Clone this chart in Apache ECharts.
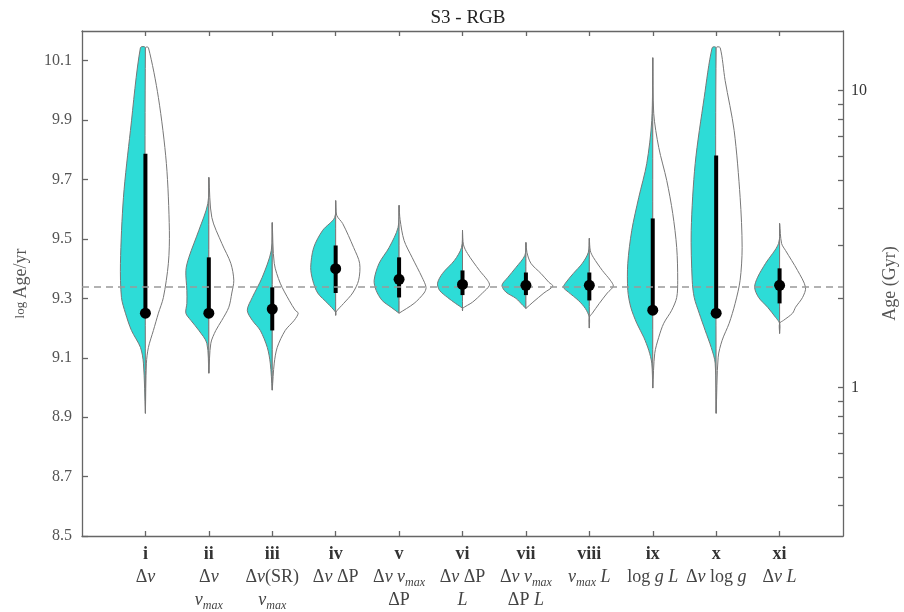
<!DOCTYPE html>
<html>
<head>
<meta charset="utf-8">
<script src="https://cdn.jsdelivr.net/npm/echarts@6/dist/echarts.min.js"></script>
<style>
  html, body { margin: 0; background: #fff; overflow: hidden; }
  #chart { width: 904px; height: 612px; }
</style>
</head>
<body>
<div id="chart"></div>
<script>
// fit names, one per violin
const categories = ["i", "ii", "iii", "iv", "v", "vi", "vii", "viii", "ix", "x", "xi"];
const subLabels = [
  "{m|Δ}{it|ν}",
  "{m|Δ}{it|ν}\n{it|ν}{sub|max}",
  "{m|Δ}{it|ν}{m|(SR)}\n{it|ν}{sub|max}",
  "{m|Δ}{it|ν} {m|ΔP}",
  "{m|Δ}{it|ν} {it|ν}{sub|max}\n{m|ΔP}",
  "{m|Δ}{it|ν} {m|ΔP}\n{it|L}",
  "{m|Δ}{it|ν} {it|ν}{sub|max}\n{m|ΔP} {it|L}",
  "{it|ν}{sub|max} {it|L}",
  "{m|log} {it|g} {it|L}",
  "{m|Δ}{it|ν} {m|log} {it|g}",
  "{m|Δ}{it|ν} {it|L}"
];

// log Age/yr: median and interval of each fit
const medians = [9.25, 9.25, 9.264, 9.40, 9.364, 9.347, 9.344, 9.344, 9.26, 9.25, 9.344];
const intervalLow = [9.25, 9.25, 9.192, 9.318, 9.303, 9.311, 9.311, 9.293, 9.26, 9.25, 9.283];
const intervalHigh = [9.787, 9.438, 9.337, 9.478, 9.438, 9.394, 9.387, 9.387, 9.569, 9.781, 9.401];

// reference age (dashed line)
const refAge = 9.337;

// density profiles [log age, density], left (filled) and right (open) halves
const leftDensity = [
  [[10.144, 5], [9.865, 15], [9.64, 22], [9.418, 25], [9.303, 24], [9.25, 20], [9.192, 14], [9.135, 5], [9.082, 2], [8.913, 0]],
  [[9.707, 0], [9.619, 1], [9.529, 10], [9.438, 20], [9.394, 23], [9.327, 22], [9.283, 22], [9.25, 23], [9.226, 18], [9.192, 10], [9.149, 2], [9.048, 0]],
  [[9.555, 0], [9.461, 1], [9.371, 10], [9.303, 20], [9.26, 25], [9.226, 20], [9.192, 12], [9.135, 5], [9.082, 2], [8.991, 0]],
  [[9.629, 0], [9.572, 1], [9.529, 13], [9.471, 22], [9.404, 25], [9.361, 23], [9.318, 18], [9.283, 8], [9.253, 0], [9.243, 0]],
  [[9.613, 0], [9.539, 1], [9.471, 10], [9.418, 20], [9.361, 25], [9.327, 23], [9.293, 17], [9.27, 8], [9.25, 0]],
  [[9.529, 0], [9.471, 1], [9.428, 8], [9.384, 20], [9.351, 25], [9.327, 23], [9.303, 15], [9.283, 7], [9.266, 0], [9.258, 0]],
  [[9.488, 0], [9.445, 1], [9.404, 10], [9.371, 18], [9.344, 24], [9.321, 20], [9.30, 10], [9.276, 3], [9.266, 0]],
  [[9.502, 0], [9.455, 1], [9.418, 7], [9.384, 16], [9.351, 24], [9.337, 26], [9.321, 21], [9.293, 11], [9.266, 4], [9.236, 0], [9.20, 0]],
  [[10.11, 0], [9.898, 1], [9.754, 6], [9.64, 14], [9.529, 21], [9.418, 25], [9.327, 25], [9.27, 22], [9.216, 16], [9.169, 9], [9.125, 4], [9.082, 1], [8.998, 0]],
  [[10.144, 4], [9.976, 12], [9.754, 21], [9.529, 25], [9.361, 24], [9.303, 22], [9.25, 17], [9.192, 11], [9.135, 5], [9.082, 1], [8.913, 0]],
  [[9.552, 0], [9.485, 1], [9.418, 14], [9.371, 22], [9.337, 25], [9.303, 21], [9.27, 12], [9.236, 4], [9.216, 0], [9.182, 0]]
];
const rightDensity = [
  [[10.144, 3], [9.976, 13], [9.754, 21], [9.529, 24], [9.418, 23], [9.303, 18], [9.25, 13], [9.192, 8], [9.135, 3], [9.082, 1], [8.913, 0]],
  [[9.707, 0], [9.572, 3], [9.485, 13], [9.418, 22], [9.361, 25], [9.318, 23], [9.27, 20], [9.226, 13], [9.192, 7], [9.149, 2], [9.048, 0]],
  [[9.555, 0], [9.418, 2], [9.351, 8], [9.293, 17], [9.26, 23], [9.25, 26], [9.226, 22], [9.192, 13], [9.135, 5], [9.082, 2], [8.991, 0]],
  [[9.629, 0], [9.58, 1], [9.552, 7], [9.471, 18], [9.418, 24], [9.361, 23], [9.318, 17], [9.283, 8], [9.253, 0], [9.243, 0]],
  [[9.613, 0], [9.565, 1], [9.495, 5], [9.438, 13], [9.371, 23], [9.337, 27], [9.318, 25], [9.283, 15], [9.25, 0]],
  [[9.529, 0], [9.48, 1], [9.451, 5], [9.394, 17], [9.361, 25], [9.344, 27], [9.318, 20], [9.287, 10], [9.266, 0], [9.258, 0]],
  [[9.488, 0], [9.455, 1], [9.418, 5], [9.384, 15], [9.354, 23], [9.341, 27], [9.318, 18], [9.287, 7], [9.266, 0]],
  [[9.502, 0], [9.46, 1], [9.438, 4], [9.394, 13], [9.361, 21], [9.341, 24], [9.318, 18], [9.283, 10], [9.25, 3], [9.236, 0], [9.20, 0]],
  [[10.11, 0], [9.922, 1], [9.808, 6], [9.697, 14], [9.586, 20], [9.471, 24], [9.361, 25], [9.303, 24], [9.26, 19], [9.216, 11], [9.169, 6], [9.115, 2], [8.998, 0]],
  [[10.144, 4], [10.033, 9], [9.865, 18], [9.64, 24], [9.471, 26], [9.361, 24], [9.283, 19], [9.216, 13], [9.159, 6], [9.102, 2], [8.913, 0]],
  [[9.552, 0], [9.485, 2], [9.461, 6], [9.394, 18], [9.337, 26], [9.303, 23], [9.27, 16], [9.25, 13], [9.226, 4], [9.216, 0], [9.182, 0]]
];

// axis ticks
const leftTicks = [8.5, 8.7, 8.9, 9.1, 9.3, 9.5, 9.7, 9.9, 10.1];
const ageMajorTicks = [1, 10];
const ageMinorTicks = [0.4, 0.5, 0.6, 0.7, 0.8, 0.9, 2, 3, 4, 5, 6, 7, 8, 9];

const densityScale = 1 / 63.5;   // x units per density unit
const serif = "Liberation Serif";
const frame = () => ({ color: "#666", width: 1.3 });
const positions = categories.map((c, i) => i + 1);
const toLogAge = (gyr) => Math.log10(gyr) + 9;

function renderViolin(params, api) {
  const i = params.dataIndex;
  const x = i + 1;
  const half = (prof, sign) => {
    const pts = [api.coord([x, prof[0][0]])];
    prof.forEach(([y, w]) => pts.push(api.coord([x + sign * w * densityScale, y])));
    pts.push(api.coord([x, prof[prof.length - 1][0]]));
    return pts;
  };
  const lo = api.coord([x, intervalLow[i]]);
  const hi = api.coord([x, intervalHigh[i]]);
  return {
    type: "group",
    children: [
      {
        type: "polygon",
        shape: { points: half(leftDensity[i], -1), smooth: 0.3 },
        style: { fill: "#2ddcd7", stroke: "#777", lineWidth: 1 }
      },
      {
        type: "polygon",
        shape: { points: half(rightDensity[i], 1), smooth: 0.3 },
        style: { fill: "#fff", stroke: "#777", lineWidth: 1 }
      },
      {
        type: "line",
        shape: { x1: lo[0], y1: lo[1], x2: hi[0], y2: hi[1] },
        style: { stroke: "#000", lineWidth: 4 }
      }
    ]
  };
}

const chart = echarts.init(document.getElementById("chart"));
chart.setOption({
  animation: false,
  title: {
    text: "S3 - RGB",
    left: 463,
    textAlign: "center",
    top: 4,
    textStyle: { fontFamily: serif, fontSize: 19, fontWeight: "normal", color: "#222" }
  },
  grid: { left: 82, right: 61, top: 31, bottom: 76, outerBoundsMode: "none", containLabel: false },
  xAxis: [
    {
      type: "value",
      min: 0,
      max: 12,
      position: "bottom",
      axisLine: { show: true, onZero: false, lineStyle: frame() },
      axisTick: { inside: true, length: 5, customValues: positions, lineStyle: frame() },
      minorTick: { show: false },
      splitLine: { show: false },
      axisLabel: {
        customValues: positions,
        margin: 6,
        lineHeight: 23,
        fontFamily: serif,
        fontSize: 18,
        color: "#444",
        formatter: (v) => "{r|" + categories[v - 1] + "}\n" + subLabels[v - 1],
        rich: {
          r: { fontFamily: serif, fontWeight: "bold", fontSize: 18, color: "#333", lineHeight: 24 },
          m: { fontFamily: serif, fontSize: 18, color: "#444", lineHeight: 23 },
          it: { fontFamily: serif, fontStyle: "italic", fontSize: 18, color: "#444", lineHeight: 23 },
          sub: { fontFamily: serif, fontStyle: "italic", fontSize: 12, color: "#444", lineHeight: 23, verticalAlign: "bottom" }
        }
      }
    },
    {
      type: "value",
      min: 0,
      max: 12,
      position: "top",
      axisLine: { show: true, onZero: false, lineStyle: frame() },
      axisTick: { inside: true, length: 5, customValues: positions, lineStyle: frame() },
      minorTick: { show: false },
      axisLabel: { show: false },
      splitLine: { show: false }
    }
  ],
  yAxis: [
    {
      type: "value",
      min: 8.5,
      max: 10.2,
      position: "left",
      name: "{s|log} {b|Age/yr}",
      nameLocation: "middle",
      nameRotate: 90,
      nameGap: 52,
      nameTextStyle: {
        rich: {
          s: { fontFamily: serif, fontSize: 13, color: "#555" },
          b: { fontFamily: serif, fontSize: 18, color: "#555" }
        }
      },
      axisLine: { show: true, onZero: false, lineStyle: frame() },
      axisTick: { inside: true, length: 6, customValues: leftTicks, lineStyle: frame() },
      minorTick: { show: false },
      axisLabel: {
        customValues: leftTicks,
        formatter: (v) => v.toFixed(1),
        fontFamily: serif,
        fontSize: 16,
        color: "#555",
        margin: 10
      },
      splitLine: { show: false }
    },
    {
      type: "value",
      min: 8.5,
      max: 10.2,
      position: "right",
      name: "Age (Gyr)",
      nameLocation: "middle",
      nameRotate: 90,
      nameGap: 38,
      nameTextStyle: { fontFamily: serif, fontSize: 18, color: "#555" },
      axisLine: { show: true, onZero: false, lineStyle: frame() },
      axisTick: {
        inside: true,
        length: 5,
        customValues: ageMajorTicks.concat(ageMinorTicks).map(toLogAge),
        lineStyle: frame()
      },
      minorTick: { show: false },
      axisLabel: {
        customValues: ageMajorTicks.map(toLogAge),
        formatter: (v) => String(Math.round(Math.pow(10, v - 9))),
        fontFamily: serif,
        fontSize: 16,
        color: "#333",
        margin: 8
      },
      splitLine: { show: false }
    }
  ],
  series: [
    {
      type: "custom",
      z: 1,
      renderItem: renderViolin,
      data: categories.map((c, i) => [i + 1, medians[i]]),
      silent: true
    },
    {
      type: "line",
      z: 3,
      data: [],
      markLine: {
        silent: true,
        symbol: "none",
        label: { show: false },
        lineStyle: { color: "#999", type: [7, 5], width: 1.6 },
        data: [{ yAxis: refAge }]
      }
    },
    {
      type: "scatter",
      z: 5,
      symbolSize: 11,
      itemStyle: { color: "#000", opacity: 1 },
      data: categories.map((c, i) => [i + 1, medians[i]])
    }
  ]
});
</script>
</body>
</html>
